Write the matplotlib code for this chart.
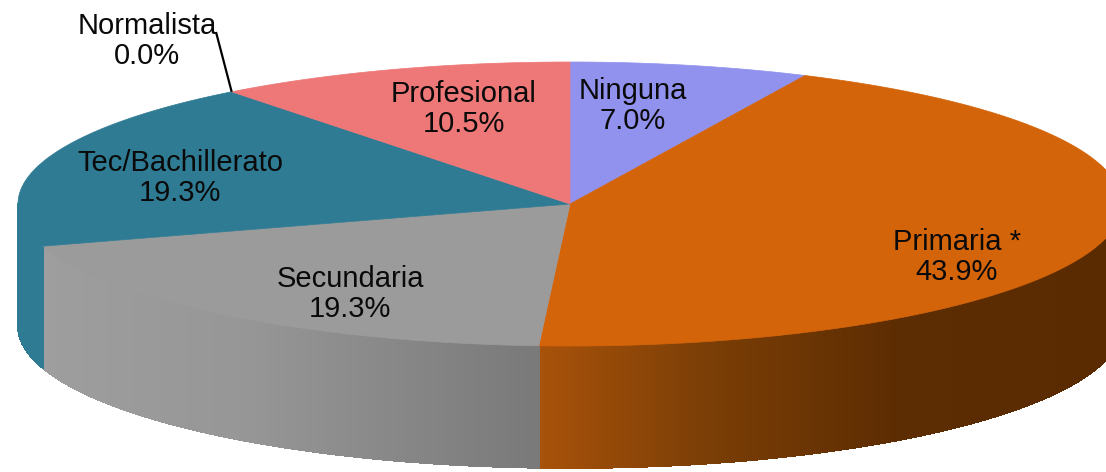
"""
3D looking pie of schooling levels, drawn with polygons
"""
import numpy as np
import matplotlib
matplotlib.use('Agg')
import matplotlib.pyplot as plt
from matplotlib.collections import PolyCollection
from matplotlib.colors import to_rgb

categories = ['Ninguna', 'Primaria *', 'Secundaria', 'Tec/Bachillerato', 'Normalista', 'Profesional']
values = [7.0, 43.9, 19.3, 19.3, 0.0, 10.5]
top_colors = ['#9191EE', '#D4640A', '#9B9B9B', '#2E7B93', '#2E7B93', '#EE7777']

# label centres in pixels
label_pos = [(633, 106), (957, 257), (350, 294), (180, 178), (147, 41), (464, 109)]

CX, CY = 570, 204
RX, RY = 552, 142
DEPTH = 122


def ellipse(t):
    return CX + RX * np.sin(t), CY - RY * np.cos(t)


def side_color(i, x):
    if i == 1:
        xs, stops = [540, 700, 900, 1106], ['#A8520A', '#7C3F06', '#5C2C02', '#5A2B00']
    elif i == 2:
        xs, stops = [42, 250, 530], ['#9E9E9E', '#969696', '#7A7A7A']
    else:
        return to_rgb(top_colors[i])
    rgb = np.array([to_rgb(c) for c in stops])
    return tuple(np.interp(x, xs, rgb[:, k]) for k in range(3))


plt.rcParams['font.family'] = ['Liberation Sans', 'DejaVu Sans']
figure = plt.figure(figsize=(11.06, 4.72), dpi=100)
axis = figure.add_axes([0, 0, 1, 1])
axis.set_xlim(0, 1106)
axis.set_ylim(472, 0)
axis.axis('off')

edges = np.cumsum([0] + values) / sum(values) * 2 * np.pi

# sides first, only the front half of the rim shows
strips, strip_colors = [], []
for i in range(len(values)):
    a, b = max(edges[i], np.pi / 2), min(edges[i + 1], 3 * np.pi / 2)
    if b <= a:
        continue
    ts = np.linspace(a, b, max(int((b - a) * 200), 2))
    for t0, t1 in zip(ts[:-1], ts[1:]):
        x0, y0 = ellipse(t0)
        x1, y1 = ellipse(t1)
        strips.append([(x0, y0), (x1, y1), (x1, y1 + DEPTH), (x0, y0 + DEPTH)])
        strip_colors.append(side_color(i, (x0 + x1) / 2))
axis.add_collection(PolyCollection(strips, facecolors=strip_colors, edgecolors=strip_colors,
                                   linewidths=0.6, antialiaseds=False))

# top faces
for i in range(len(values)):
    if values[i] == 0:
        continue
    ts = np.linspace(edges[i], edges[i + 1], 200)
    x, y = ellipse(ts)
    axis.fill(np.r_[CX, x], np.r_[CY, y], color=top_colors[i], lw=0.5)

# leader of the empty slice
lx, ly = ellipse(edges[4])
axis.plot([216, lx], [32, ly], color='black', lw=1.6, solid_capstyle='butt')

for name, value, (x, y) in zip(categories, values, label_pos):
    axis.text(x, y, '%s\n%.1f%%' % (name, value), ha='center', va='center',
              fontsize=21, linespacing=1.13, color='#0A0A0A')

plt.savefig('out.png', dpi=100)
